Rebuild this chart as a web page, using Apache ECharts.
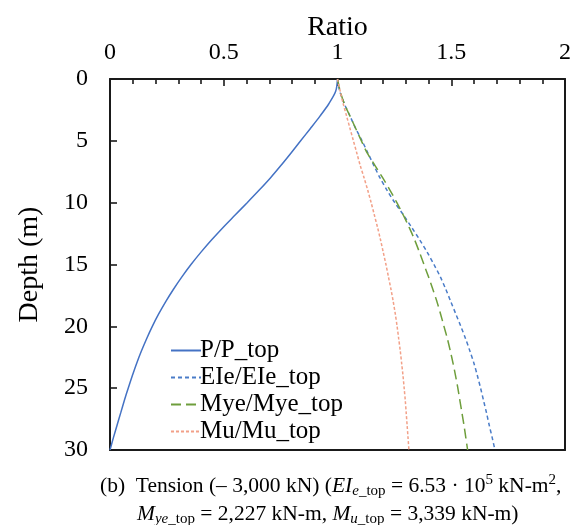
<!DOCTYPE html>
<html>
<head>
<meta charset="utf-8">
<script src="https://cdn.jsdelivr.net/npm/echarts@6/dist/echarts.min.js"></script>
<style>html,body{margin:0;padding:0;background:#fff;}#c{width:578px;height:525px;}</style>
</head>
<body>
<div id="c"></div>
<script>
// Depth (m)
var depth = [0,1,2,3,4,5,6,7,8,9,10,11,12,13,14,15,16,17,18,19,20,21,22,23,24,25,26,27,28,29,30];
// P/P_top
var pRatio = [1.0,0.992,0.962,0.923,0.881,0.838,0.795,0.751,0.705,0.655,0.603,0.550,0.497,0.447,0.400,0.356,0.316,0.279,0.245,0.214,0.186,0.161,0.138,0.117,0.098,0.080,0.063,0.047,0.031,0.015,0.0];
// EIe/EIe_top
var eiRatio = [1.0,1.01,1.03,1.055,1.08,1.108,1.134,1.16,1.187,1.218,1.252,1.29,1.326,1.361,1.394,1.424,1.452,1.476,1.498,1.52,1.542,1.563,1.582,1.60,1.615,1.629,1.642,1.655,1.667,1.68,1.692];
// Mye/Mye_top
var myeRatio = [1.0,1.012,1.03,1.055,1.08,1.105,1.131,1.165,1.199,1.231,1.261,1.289,1.315,1.339,1.36,1.38,1.40,1.419,1.437,1.453,1.468,1.483,1.496,1.508,1.519,1.529,1.538,1.547,1.556,1.564,1.572];
// Mu/Mu_top
var muRatio = [1.0,1.012,1.025,1.04,1.055,1.07,1.085,1.10,1.117,1.133,1.148,1.162,1.176,1.189,1.201,1.213,1.224,1.235,1.245,1.254,1.262,1.269,1.276,1.282,1.288,1.293,1.298,1.302,1.306,1.31,1.314];
var seriesNames = ['P/P_top','EIe/EIe_top','Mye/Mye_top','Mu/Mu_top'];
var xTicks = [0, 0.5, 1, 1.5, 2];
var yTicks = [0, 5, 10, 15, 20, 25, 30];

function pairs(vals){ return depth.map(function(d,i){ return [vals[i], d]; }); }
var FONT = '"Liberation Serif","Times New Roman",serif';
var chart = echarts.init(document.getElementById('c'), null, {renderer:'canvas'});
var styles = [
  {color:'#4472C4', type:'solid', width:1.5},
  {color:'#4A7CC8', type:[4,3], width:1.5},
  {color:'#6E9E3C', type:[10,5], width:1.5},
  {color:'#F2A088', type:[3,2], width:1.5}
];
var allVals = [pRatio, eiRatio, myeRatio, muRatio];
var AX = '#1a1a1a';
var xMin = xTicks[0], xMax = xTicks[xTicks.length-1];
var yMin = yTicks[0], yMax = yTicks[yTicks.length-1];
chart.setOption({
  animation:false,
  backgroundColor:'#fff',
  grid:{left:110, top:79, width:455, height:371, show:false},
  xAxis:[{type:'value', position:'top', min:xMin, max:xMax, interval:0.5,
    name:'Ratio', nameLocation:'middle', nameGap:37, nameMoveOverlap:false,
    nameTextStyle:{fontFamily:FONT, fontSize:28, color:'#000'},
    axisLine:{show:true, onZero:false, lineStyle:{color:AX, width:2}},
    axisTick:{show:true, inside:true, length:7, lineStyle:{color:AX, width:1.6}},
    minorTick:{show:true, splitNumber:5, length:5, lineStyle:{color:AX, width:1.6}},
    splitLine:{show:false},
    axisLabel:{show:true, fontFamily:FONT, fontSize:24, color:'#000', margin:14,
      formatter:function(v){ return String(v); }}
  },{type:'value', position:'bottom', min:xMin, max:xMax, interval:0.5,
    axisLine:{show:true, onZero:false, lineStyle:{color:AX, width:2}},
    axisTick:{show:false}, axisLabel:{show:false}, splitLine:{show:false}
  }],
  yAxis:[{type:'value', inverse:true, min:yMin, max:yMax, interval:5,
    name:'Depth (m)', nameLocation:'middle', nameGap:66, nameMoveOverlap:false,
    nameTextStyle:{fontFamily:FONT, fontSize:28, color:'#000'},
    axisLine:{show:true, onZero:false, lineStyle:{color:AX, width:2}},
    axisTick:{show:true, inside:true, length:7, lineStyle:{color:AX, width:1.6}},
    splitLine:{show:false},
    axisLabel:{show:true, fontFamily:FONT, fontSize:24, color:'#000', margin:22}
  },{type:'value', position:'right', inverse:true, min:yMin, max:yMax, interval:5,
    axisLine:{show:true, onZero:false, lineStyle:{color:AX, width:2}},
    axisTick:{show:false}, axisLabel:{show:false}, splitLine:{show:false}
  }],
  legend:{orient:'vertical', left:165, top:333, itemWidth:30, itemHeight:10, itemGap:2,
    itemStyle:{opacity:0},
    textStyle:{fontFamily:FONT, fontSize:25, color:'#000', padding:[0,0,0,-6]},
    data:seriesNames},
  series: seriesNames.map(function(n,i){
    return {name:n, type:'line', xAxisIndex:0, yAxisIndex:0, data:pairs(allVals[i]), showSymbol:false, symbol:'none', smooth:0.3,
      lineStyle:styles[i], itemStyle:{color:styles[i].color}};
  }),
  graphic:[
    {type:'text', left:100, top:473, style:{
      text:'{n|(b)  Tension (– 3,000 kN) (}{i|EI}{isub|e}{sub|_top}{n| = 6.53 · 10}{sup|5}{n| kN-m}{sup|2}{n|,}',
      rich:{
        n:{fontFamily:FONT, fontSize:21.5, lineHeight:26, fill:'#000'},
        i:{fontFamily:FONT, fontSize:21.5, fontStyle:'italic', lineHeight:26, fill:'#000'},
        isub:{fontFamily:FONT, fontSize:15, fontStyle:'italic', lineHeight:14, verticalAlign:'bottom', fill:'#000'},
        sub:{fontFamily:FONT, fontSize:15, lineHeight:14, verticalAlign:'bottom', fill:'#000'},
        sup:{fontFamily:FONT, fontSize:15, lineHeight:14, verticalAlign:'top', fill:'#000'}
      }}},
    {type:'text', left:137, top:503, style:{
      text:'{i|M}{isub|ye}{sub|_top}{n| = 2,227 kN-m, }{i|M}{isub|u}{sub|_top}{n| = 3,339 kN-m)}',
      rich:{
        n:{fontFamily:FONT, fontSize:21.5, lineHeight:26, fill:'#000'},
        i:{fontFamily:FONT, fontSize:21.5, fontStyle:'italic', lineHeight:26, fill:'#000'},
        isub:{fontFamily:FONT, fontSize:15, fontStyle:'italic', lineHeight:14, verticalAlign:'bottom', fill:'#000'},
        sub:{fontFamily:FONT, fontSize:15, lineHeight:14, verticalAlign:'bottom', fill:'#000'}
      }}}
  ]
});
</script>
</body>
</html>
